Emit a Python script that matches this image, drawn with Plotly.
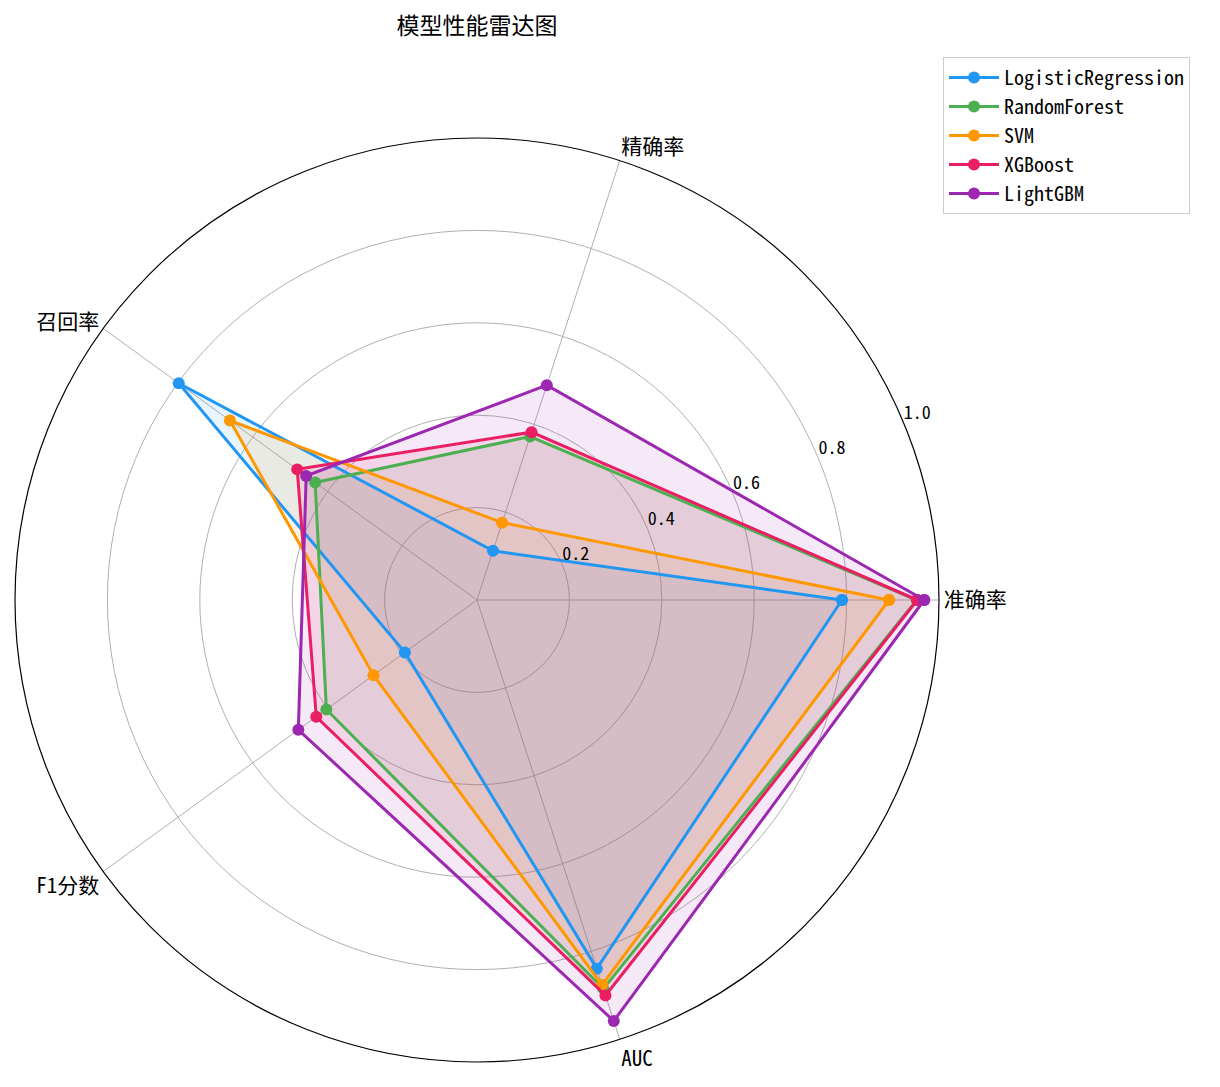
import plotly.graph_objects as go

metrics = ["准确率", "精确率", "召回率", "F1分数", "AUC"]
models = ["LogisticRegression", "RandomForest", "SVM", "XGBoost", "LightGBM"]
lr_vals = [0.790, 0.112, 0.798, 0.193, 0.839]
rf_vals = [0.952, 0.372, 0.433, 0.403, 0.885]
svm_vals = [0.892, 0.176, 0.661, 0.277, 0.876]
xgb_vals = [0.953, 0.382, 0.481, 0.430, 0.900]
lgbm_vals = [0.968, 0.489, 0.457, 0.478, 0.958]
radial_ticks = [0.2, 0.4, 0.6, 0.8, 1.0]

colors = ["#2196F3", "#4CAF50", "#FF9800", "#E91E63", "#9C27B0"]
fills = ["rgba(33,150,243,0.1)", "rgba(76,175,80,0.1)", "rgba(255,152,0,0.1)",
         "rgba(233,30,99,0.1)", "rgba(156,39,176,0.1)"]

FONT = "Noto Sans Mono CJK SC, Noto Sans CJK SC, DejaVu Sans Mono"
W, H = 1220, 1087
OFF = 8  # browser body margin

all_vals = [lr_vals, rf_vals, svm_vals, xgb_vals, lgbm_vals]
angles = [i * 360 / len(metrics) for i in range(len(metrics))]
theta = angles + angles[:1]

fig = go.Figure()
# fills first so every line sits on top of all fills (like matplotlib zorder)
for vals, fc in zip(all_vals, fills):
    fig.add_trace(go.Scatterpolar(
        r=vals + vals[:1], theta=theta, mode="lines",
        fill="toself", fillcolor=fc, line=dict(width=0, color=fc),
        showlegend=False, hoverinfo="skip",
    ))
for name, vals, c in zip(models, all_vals, colors):
    fig.add_trace(go.Scatterpolar(
        r=vals + vals[:1], theta=theta, name=name,
        mode="lines+markers", line=dict(color=c, width=3), marker=dict(size=12, color=c),
    ))

# radial labels drawn as text at 22.5 deg, right of the ring crossing
fig.add_trace(go.Scatterpolar(
    r=radial_ticks, theta=[22.5] * len(radial_ticks), mode="text",
    text=[f"{v:.1f}" for v in radial_ticks], textposition="top right",
    textfont=dict(size=18, color="black"), showlegend=False, hoverinfo="skip",
    cliponaxis=False,
))

cx, cy, rad = 477 - OFF, 600 - OFF, 462
fig.update_layout(
    width=W, height=H,
    paper_bgcolor="white",
    font=dict(family=FONT, size=16, color="black"),
    margin=dict(l=0, r=0, t=0, b=0),
    title=dict(text="模型性能雷达图", x=(477 - OFF) / W, xanchor="center", y=1 - (26 - OFF) / H,
               yanchor="middle", font=dict(size=23)),
    polar=dict(
        domain=dict(x=[(cx - rad) / W, (cx + rad) / W],
                    y=[1 - (cy + rad) / H, 1 - (cy - rad) / H]),
        bgcolor="white",
        angularaxis=dict(rotation=0, direction="counterclockwise", tickmode="array",
                         tickvals=angles, ticktext=metrics,
                         gridcolor="#b0b0b0", linecolor="black", linewidth=1.2,
                         showline=True, ticks="", tickfont=dict(size=21)),
        radialaxis=dict(range=[0, 1], tickvals=radial_ticks, showticklabels=False,
                        angle=22.5, showline=False, ticks="", gridcolor="#b0b0b0"),
    ),
    legend=dict(x=(943 - OFF) / W, y=1 - (57 - OFF) / H, xanchor="left", yanchor="top",
                bordercolor="#cccccc", borderwidth=1, bgcolor="white",
                font=dict(size=20), itemwidth=50, tracegroupgap=0),
)

fig.write_html("out.html")
